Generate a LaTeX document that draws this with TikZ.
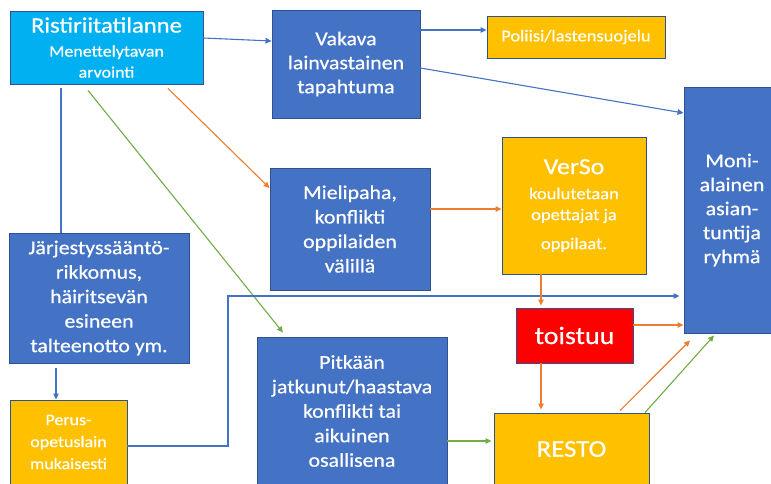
\documentclass[tikz,border=0pt]{standalone}
\usepackage{fontspec}
\setmainfont{Carlito}[FakeStretch=1.12,FakeBold=0.6]
\usetikzlibrary{arrows.meta,calc}
\definecolor{cyanbox}{HTML}{00B0F0}
\definecolor{bluebox}{HTML}{4472C4}
\definecolor{goldbox}{HTML}{FFC000}
\definecolor{redbox}{HTML}{FF0000}
\definecolor{edgeblue}{HTML}{2F528F}
\definecolor{lblue}{HTML}{4472C4}
\definecolor{lorange}{HTML}{ED7D31}
\definecolor{lgreen}{HTML}{70AD47}
\tikzset{
  box/.style={draw=edgeblue, line width=0.9pt, text=white, align=center, inner sep=0pt},
  bluecard/.style={box, fill=bluebox, font=\fontsize{19.5}{24.5}\selectfont},
  goldcard/.style={box, fill=goldbox},
  arr/.style={line width=1.1pt, -{Triangle[length=6pt,width=5.5pt]}},
  bline/.style={arr, draw=lblue},
  oline/.style={arr, draw=lorange},
  gline/.style={arr, draw=lgreen},
}
\begin{document}
\begin{tikzpicture}[x=1pt,y=-1pt]
\useasboundingbox (0,0) rectangle (771,483);
\fill[white] (0,0) rectangle (771,483);
% boxes
\node[box, fill=cyanbox, minimum width=193pt, minimum height=73pt, font=\fontsize{16}{21}\selectfont] (ris) at (106.5,47.5)
  {{\fontsize{22}{24}\selectfont Ristiriitatilanne}\\[3pt]Menettelytavan\\arvointi};
\node[bluecard, minimum width=148pt, minimum height=108pt, font=\fontsize{19.5}{24}\selectfont] (vak) at (346,64)
  {Vakava\\lainvastainen\\tapahtuma};
\node[goldcard, minimum width=178pt, minimum height=42pt, font=\fontsize{16.5}{20}\selectfont] (pol) at (576,37)
  {Poliisi/lastensuojelu};
\node[bluecard, minimum width=96pt, minimum height=246pt, font=\fontsize{19.5}{24}\selectfont] (moni) at (732,210)
  {Moni-\\alainen\\asian-\\tuntija\\ryhmä};
\node[bluecard, minimum width=160pt, minimum height=122pt] (mie) at (350,229)
  {Mielipaha,\\konflikti\\oppilaiden\\välillä};
\node[goldcard, minimum width=144pt, minimum height=137pt, font=\fontsize{16.5}{21}\selectfont] (ver) at (574,205.5)
  {{\fontsize{23}{25}\selectfont VerSo}\\[4pt]koulutetaan\\opettajat ja\\[8pt]oppilaat.};
\node[box, fill=redbox, minimum width=117pt, minimum height=55pt, font=\fontsize{25}{28}\selectfont] (toi) at (574.5,335.5)
  {toistuu};
\node[goldcard, minimum width=155pt, minimum height=72pt, font=\fontsize{24}{28}\selectfont] (res) at (571.5,449)
  {RESTO};
\node[bluecard, minimum width=190pt, minimum height=148pt] (pit) at (352,411)
  {Pitkään\\jatkunut/haastava\\konflikti tai\\aikuinen\\osallisena};
\node[bluecard, minimum width=180pt, minimum height=130pt] (jar) at (99,298)
  {Järjestyssääntö-\\rikkomus,\\häiritsevän\\esineen\\talteenotto ym.};
\node[goldcard, minimum width=117pt, minimum height=84pt, font=\fontsize{16}{22}\selectfont] (per) at (68.5,442)
  {Perus-\\opetuslain\\mukaisesti};
% connectors
\draw[bline] ([yshift=9.5pt]ris.east) -- ([yshift=23pt]vak.west);
\draw[bline] ([yshift=34pt]vak.east) -- ([yshift=7pt]pol.west);
\draw[bline] ([yshift=-4pt]vak.east) -- ([yshift=97pt]moni.west);
\draw[draw=lblue, line width=1.1pt] ([xshift=-45.5pt,yshift=-4pt]ris.south) -- ([xshift=-45.5pt]ris.south |- jar.north);
\draw[oline] ([xshift=61.5pt,yshift=-4pt]ris.south) -- ([yshift=41pt]mie.west);
\draw[gline] ([xshift=-18.5pt,yshift=-6pt]ris.south) -- ([xshift=-69pt,yshift=4pt]pit.north);
\draw[bline] ([xshift=-12.5pt,yshift=-5pt]per.north |- jar.south) -- ([xshift=-12.5pt]per.north);
\coordinate (bend) at (228,296);
\draw[bline] ([yshift=-4pt]per.east) -- ([yshift=-4pt]per.east -| bend) -- (bend) -- ([xshift=-4pt]bend -| moni.west);
\draw[oline] ([yshift=20pt]mie.east) -- ([yshift=20pt]mie.east -| ver.west);
\draw[oline] ([xshift=-33pt]ver.south) -- ([xshift=-33pt,yshift=2pt]ver.south |- toi.north);
\draw[oline] ([yshift=10.5pt]toi.east) -- ([yshift=10.5pt]toi.east -| moni.west);
\draw[oline] ([xshift=-33.5pt]toi.south) -- ([xshift=-33.5pt,yshift=3pt]toi.south |- res.north);
\draw[gline] ([yshift=-30pt]pit.east) -- ([yshift=-30pt,xshift=-2pt]pit.east -| res.west);
\draw[oline] ([xshift=48.5pt,yshift=2pt]res.north) -- ([xshift=-42pt,yshift=-7pt]moni.south);
\draw[gline] ([xshift=73.5pt]res.north) -- ([xshift=-18pt,yshift=-2pt]moni.south);
\end{tikzpicture}
\end{document}
